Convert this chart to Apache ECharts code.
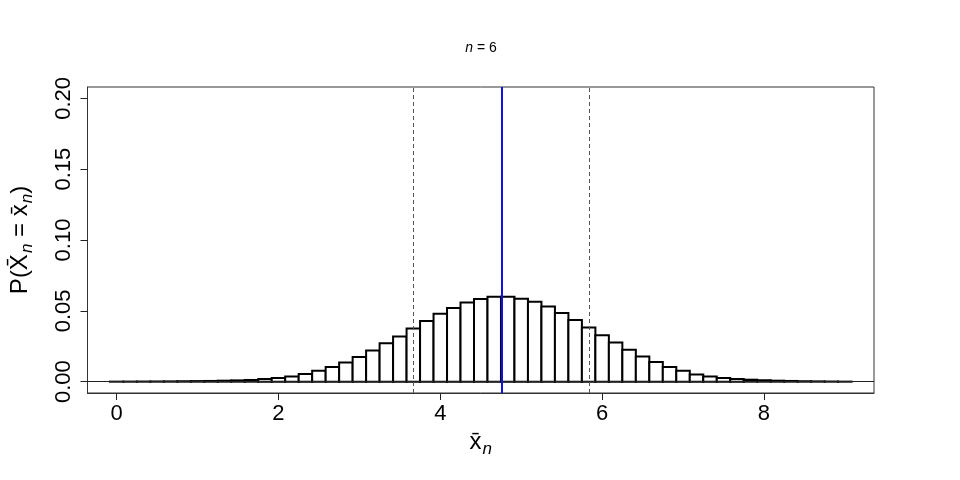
<!DOCTYPE html>
<html>
<head>
<meta charset="utf-8">
<script src="https://cdn.jsdelivr.net/npm/echarts@6/dist/echarts.min.js"></script>
<style>
  html, body { margin: 0; padding: 0; background: #fff; }
  #chart { width: 960px; height: 480px; }
</style>
</head>
<body>
<div id="chart"></div>
<script>
// P(Xbar_n = k/6), k = 0..54
const probs = [
  0.00002, 0.00005, 0.0001, 0.00015, 0.0002, 0.0003, 0.0004, 0.0005, 0.0007, 0.0009,
  0.0012, 0.0019, 0.0026, 0.0037, 0.0054, 0.0077, 0.0103, 0.0136, 0.0174, 0.0220,
  0.0272, 0.0319, 0.0375, 0.0429, 0.0480, 0.0520, 0.0558, 0.0584, 0.0600, 0.0600,
  0.0586, 0.0565, 0.0530, 0.0485, 0.0436, 0.0382, 0.0328, 0.0276, 0.0225, 0.0178,
  0.0139, 0.0103, 0.0077, 0.0051, 0.0037, 0.0026, 0.0019, 0.0014, 0.0010, 0.0007,
  0.0005, 0.0003, 0.0002, 0.0001, 0.00003
];
const n = 6;
const binWidth = 1 / n;
const xs = probs.map((_, k) => k / n);
const meanX = 4.758;
const sdLines = [3.671, 5.844];
const xTicks = [0, 2, 4, 6, 8];
const yTicks = [0, 0.05, 0.10, 0.15, 0.20];

const FONT = '"Liberation Sans", Arial, Helvetica, sans-serif';
const chart = echarts.init(document.getElementById('chart'));

chart.setOption({
  animation: false,
  backgroundColor: '#fff',
  title: {
    text: '{i|n} = 6',
    left: 476, top: 36, textAlign: 'center',
    textStyle: {
      fontFamily: FONT, fontSize: 14, color: '#000', fontWeight: 'normal',
      rich: { i: { fontFamily: FONT, fontSize: 14, fontStyle: 'italic', color: '#000' } }
    }
  },
  grid: { left: 86, right: 86, top: 87, bottom: 87, show: true, borderColor: '#333', borderWidth: 1 },
  xAxis: {
    type: 'value', min: -0.36, max: 9.36,
    axisLine: { show: true, onZero: false, lineStyle: { color: '#333', width: 1 } },
    splitLine: { show: false },
    axisTick: { show: true, inside: false, length: 7, lineStyle: { color: '#222', width: 1 }, customValues: xTicks },
    axisLabel: { customValues: xTicks, margin: 10, fontFamily: FONT, fontSize: 22, color: '#000' },
    name: '{v|x\u0304}{s|n}',
    nameLocation: 'middle', nameGap: 33,
    nameTextStyle: {
      fontFamily: FONT, fontSize: 24, color: '#000',
      rich: {
        v: { fontFamily: FONT, fontSize: 24, color: '#000' },
        s: { fontFamily: FONT, fontSize: 17, fontStyle: 'italic', color: '#000', padding: [14, 0, 0, 1] }
      }
    }
  },
  yAxis: {
    type: 'value', min: -0.008, max: 0.208,
    axisLine: { show: true, onZero: false, lineStyle: { color: '#333', width: 1 } },
    splitLine: { show: false },
    axisTick: { show: true, inside: false, length: 7, lineStyle: { color: '#222', width: 1 }, customValues: yTicks },
    axisLabel: {
      customValues: yTicks, rotate: 90, margin: 13,
      fontFamily: FONT, fontSize: 22, color: '#000',
      formatter: v => v.toFixed(2)
    },
    name: '{n|P(}{v|X\u0304}{s|n}{n| = }{v|x\u0304}{s|n}{n|)}',
    nameLocation: 'middle', nameGap: 52, nameRotate: 90,
    nameTextStyle: {
      fontFamily: FONT, fontSize: 24, color: '#000',
      rich: {
        n: { fontFamily: FONT, fontSize: 24, color: '#000' },
        v: { fontFamily: FONT, fontSize: 24, color: '#000' },
        s: { fontFamily: FONT, fontSize: 17, fontStyle: 'italic', color: '#000', padding: [14, 0, 0, 1] }
      }
    }
  },
  series: [{
    type: 'custom',
    data: xs.map((x, i) => [x, probs[i]]),
    renderItem: (params, api) => {
      const x = api.value(0), y = api.value(1);
      const p0 = api.coord([x - binWidth / 2, y]);
      const p1 = api.coord([x + binWidth / 2, 0]);
      return {
        type: 'rect',
        shape: { x: p0[0], y: p0[1], width: p1[0] - p0[0], height: p1[1] - p0[1] },
        style: { fill: '#fff', stroke: '#000', lineWidth: 2 }
      };
    },
    markLine: {
      silent: true, symbol: 'none', label: { show: false },
      data: [
        { yAxis: 0, lineStyle: { color: '#222', width: 1, type: 'solid' } },
        ...sdLines.map(v => ({ xAxis: v, lineStyle: { color: '#555', width: 1, type: [4, 3] } })),
        { xAxis: meanX, lineStyle: { color: '#1010e0', width: 2, type: 'solid' } }
      ]
    }
  }]
});
</script>
</body>
</html>
